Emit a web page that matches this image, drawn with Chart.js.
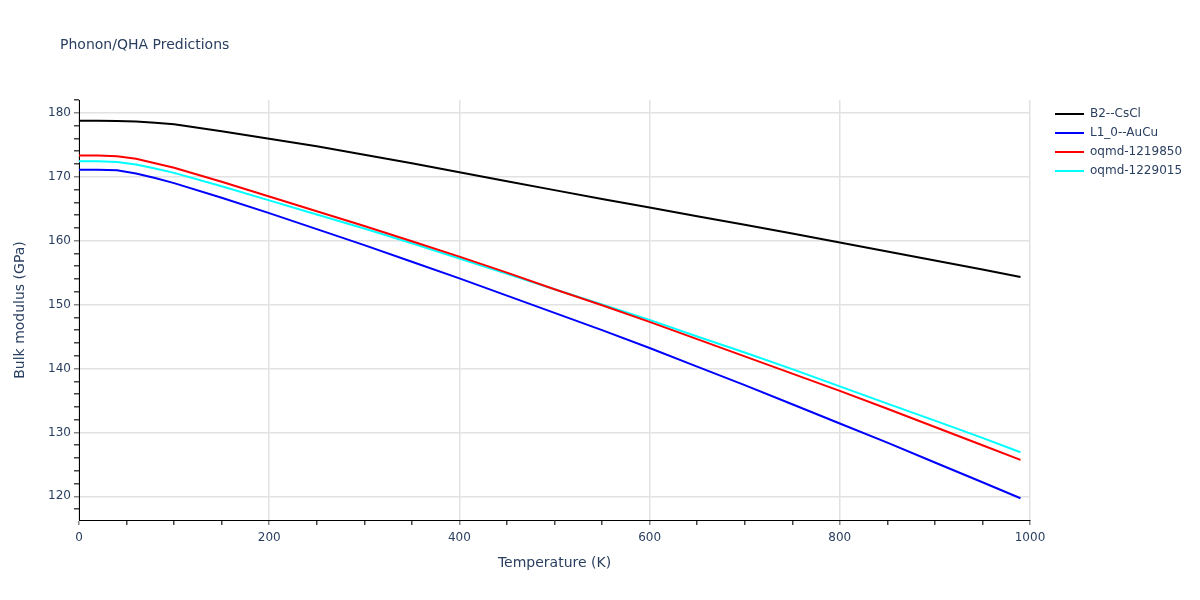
<!DOCTYPE html>
<html>
<head>
<meta charset="utf-8">
<script src="https://cdn.jsdelivr.net/npm/chart.js@4.4.1/dist/chart.umd.min.js"></script>
<style>
  html, body { margin: 0; padding: 0; background: #fff; }
  #wrap { width: 1200px; height: 600px; position: relative; }
</style>
</head>
<body>
<div id="wrap"><canvas id="phononChart" width="1200" height="600"></canvas></div>
<script>
const temperatures = [0, 20, 40, 60, 80, 100, 150, 200, 250, 300, 350, 400, 450, 500,
    550, 600, 650, 700, 750, 800, 850, 900, 950, 990];

const b2CsCl = [178.75, 178.75, 178.72, 178.65, 178.45, 178.2, 177.1, 175.95, 174.75, 173.45,
    172.1, 170.7, 169.3, 167.9, 166.5, 165.2, 163.8, 162.5, 161.1, 159.7, 158.3, 156.9, 155.5, 154.3];
const l10AuCu = [171.1, 171.1, 171.0, 170.5, 169.8, 169.0, 166.7, 164.3, 161.8, 159.3,
    156.7, 154.1, 151.4, 148.7, 146.0, 143.2, 140.3, 137.4, 134.4, 131.4, 128.4, 125.3, 122.2, 119.7];
const oqmd1219850 = [173.3, 173.3, 173.2, 172.8, 172.1, 171.4, 169.2, 166.9, 164.6, 162.3,
    159.9, 157.5, 155.0, 152.4, 149.9, 147.3, 144.6, 141.9, 139.2, 136.5, 133.7, 130.85, 128.0, 125.7];
const oqmd1229015 = [172.4, 172.4, 172.3, 171.9, 171.3, 170.6, 168.5, 166.3, 164.1, 161.9,
    159.6, 157.2, 154.8, 152.4, 150.0, 147.6, 145.0, 142.5, 139.9, 137.2, 134.5, 131.85, 129.15, 126.9];

const seriesNames = ['B2--CsCl', 'L1_0--AuCu', 'oqmd-1219850', 'oqmd-1229015'];
const seriesColors = ['#000000', '#0000ff', '#ff0000', '#00ffff'];
const seriesValues = [b2CsCl, l10AuCu, oqmd1219850, oqmd1229015];

const fontFamily = '"DejaVu Sans", verdana, arial, sans-serif';
const textColor = '#2a3f5f';

const datasets = seriesValues.map((vals, i) => ({
    label: seriesNames[i],
    data: vals.map((v, j) => ({ x: temperatures[j], y: v })),
    borderColor: seriesColors[i],
    backgroundColor: seriesColors[i],
    borderWidth: 2,
    pointRadius: 0,
    tension: 0,
    fill: false
}));

// title and legend drawn by hand, plotly style
const decorations = {
    id: 'decorations',
    afterDraw(chart) {
        const ctx = chart.ctx;
        ctx.save();
        ctx.fillStyle = textColor;
        ctx.font = '14px ' + fontFamily;
        ctx.textBaseline = 'middle';
        ctx.textAlign = 'left';
        ctx.fillText('Phonon/QHA Predictions', 60, 45);

        ctx.font = '12px ' + fontFamily;
        chart.data.datasets.forEach((ds, i) => {
            const y = 114 + i * 19;
            ctx.strokeStyle = ds.borderColor;
            ctx.lineWidth = 2;
            ctx.beginPath();
            ctx.moveTo(1055, y);
            ctx.lineTo(1084, y);
            ctx.stroke();
            ctx.fillStyle = textColor;
            ctx.fillText(ds.label, 1090, y);
        });
        ctx.restore();
    }
};

new Chart(document.getElementById('phononChart'), {
    type: 'line',
    data: { datasets: datasets },
    options: {
        responsive: false,
        animation: false,
        layout: { padding: { left: 0, right: 170, top: 100, bottom: 0 } },
        plugins: {
            legend: { display: false },
            title: { display: false },
            tooltip: { enabled: false }
        },
        scales: {
            x: {
                type: 'linear',
                min: 0,
                max: 1000,
                afterFit(scale) { scale.height = 80; },
                ticks: {
                    stepSize: 50,
                    maxRotation: 0,
                    autoSkip: false,
                    padding: 6,
                    color: textColor,
                    font: { family: fontFamily, size: 12 },
                    callback: v => (v % 200 === 0 ? String(v) : '')
                },
                grid: {
                    color: c => (c.tick && c.tick.value % 200 === 0 ? '#e2e2e2' : 'rgba(0,0,0,0)'),
                    tickColor: c => (c.tick && c.tick.value % 200 === 0 ? '#888888' : '#444444'),
                    tickLength: 5,
                    lineWidth: 1.5
                },
                border: { display: true, color: '#000000', width: 1 },
                title: {
                    display: true,
                    text: 'Temperature (K)',
                    color: textColor,
                    font: { family: fontFamily, size: 14 },
                    padding: { top: 0, bottom: 28 }
                }
            },
            y: {
                type: 'linear',
                min: 116.3,
                max: 182,
                afterFit(scale) { scale.width = 79; },
                ticks: {
                    stepSize: 2,
                    includeBounds: false,
                    autoSkip: false,
                    padding: 3,
                    color: textColor,
                    font: { family: fontFamily, size: 12 },
                    callback: v => (Math.round(v) % 10 === 0 ? String(Math.round(v)) : '')
                },
                grid: {
                    color: c => (c.tick && Math.round(c.tick.value) % 10 === 0 ? '#e2e2e2' : 'rgba(0,0,0,0)'),
                    tickColor: c => (c.tick && Math.round(c.tick.value) % 10 === 0 ? '#888888' : '#444444'),
                    tickLength: 5,
                    lineWidth: 1.5
                },
                border: { display: true, color: '#000000', width: 1 },
                title: {
                    display: true,
                    text: 'Bulk modulus (GPa)',
                    color: textColor,
                    font: { family: fontFamily, size: 14 },
                    padding: { top: 12, bottom: 0 }
                }
            }
        }
    },
    plugins: [decorations]
});
</script>
</body>
</html>
